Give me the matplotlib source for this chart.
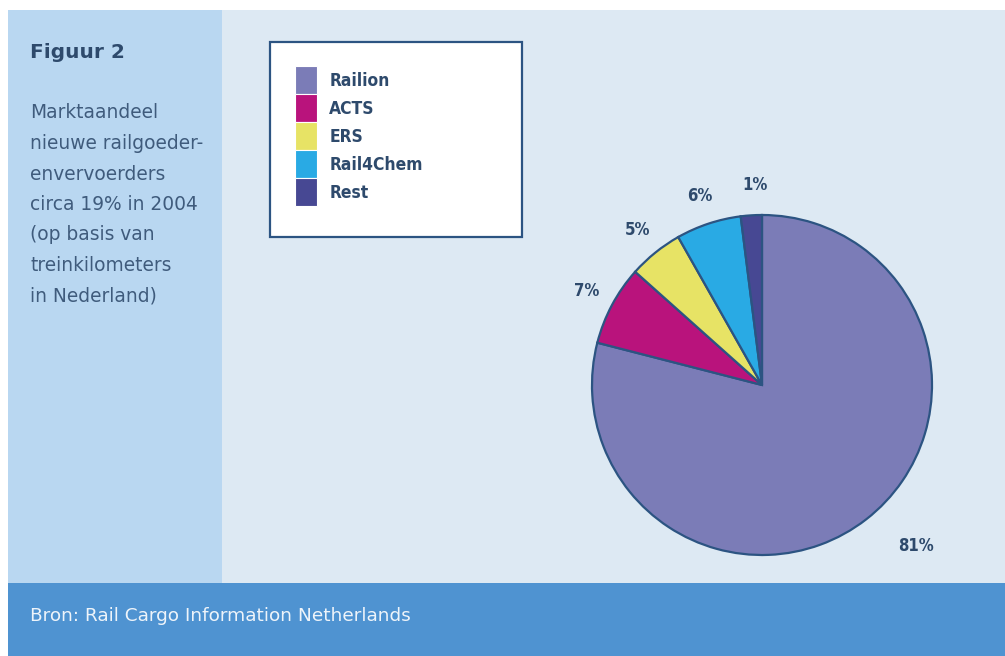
import numpy as np
import matplotlib
matplotlib.use("Agg")
import matplotlib.pyplot as plt
from matplotlib.patches import Rectangle, Patch

# data read off the picture (slice sizes measured from the wedge angles,
# printed labels as they appear on the chart)
categories = ["Railion", "ACTS", "ERS", "Rail4Chem", "Rest"]
shares = [79.0, 7.6, 5.2, 6.2, 2.0]
share_labels = ["81%", "7%", "5%", "6%", "1%"]
colors = ["#7b7cb7", "#b9137c", "#e7e365", "#29aae4", "#474893"]

title = "Figuur 2"
subtitle_lines = ["Marktaandeel", "nieuwe railgoeder-", "envervoerders",
                  "circa 19% in 2004", "(op basis van", "treinkilometers",
                  "in Nederland)"]
source = "Bron: Rail Cargo Information Netherlands"

W, H = 1005, 656
fig = plt.figure(figsize=(W / 100, H / 100), dpi=100)
fig.patch.set_facecolor("white")


def box(x0, y0, x1, y1):
    # pixel box (top-left origin) -> figure fraction rect
    return (x0 / W, 1 - y1 / H, (x1 - x0) / W, (y1 - y0) / H)


def add_rect(x0, y0, x1, y1, **kw):
    l, b, w, h = box(x0, y0, x1, y1)
    fig.add_artist(Rectangle((l, b), w, h, transform=fig.transFigure, **kw))


# background panels (kept under the pie axes)
add_rect(222, 10, W, 583, facecolor="#dde9f3", edgecolor="none", zorder=-5)
add_rect(8, 10, 222, 583, facecolor="#b9d7f1", edgecolor="none", zorder=-5)
add_rect(8, 583, W, H, facecolor="#4f93d1", edgecolor="none", zorder=-5)

# left panel texts
navy = "#2e4a6c"
fig.text(30 / W, 1 - 52 / H, title, fontsize=14.5, fontweight="bold",
         color=navy, va="center", ha="left")
for i, line in enumerate(subtitle_lines):
    fig.text(30 / W, 1 - (113 + i * 30.5) / H, line, fontsize=13.4,
             color="#3f5b7c", va="center", ha="left")

fig.text(30 / W, 1 - 616 / H, source, fontsize=13.3, color="#eef4fa",
         va="center", ha="left")

narrow = dict(family="DejaVu Sans", stretch="condensed", weight="bold")

# pie
cx, cy, r = 762, 385, 170
ax = fig.add_axes(box(cx - r, cy - r, cx + r, cy + r))
wedges, _ = ax.pie(shares, colors=colors, startangle=90, counterclock=False,
                   radius=1.0,
                   wedgeprops=dict(edgecolor="#2c5482", linewidth=1.6))
ax.set_xlim(-1, 1)
ax.set_ylim(-1, 1)
ax.set_aspect("equal")
ax.axis("off")

label_dist = [1.31, 1.17, 1.17, 1.17, 1.18]
label_shift = [6.0, 0, 0, 0, -1.5]
for w, lab, d, s in zip(wedges, share_labels, label_dist, label_shift):
    ang = np.deg2rad((w.theta1 + w.theta2) / 2 + s)
    ax.text(d * np.cos(ang), d * np.sin(ang), lab, fontsize=12,
            ha="center", va="center", color=navy, **narrow)

# legend frame
add_rect(270, 42, 522, 237, facecolor="white", edgecolor="#2c5482",
         linewidth=1.6)
handles = [Patch(facecolor=c, edgecolor="white", linewidth=0.8)
           for c in colors]
leg = fig.legend(handles, categories, loc="upper left",
                 bbox_to_anchor=(283 / W, 1 - 54 / H), frameon=False,
                 handlelength=1.27, handleheight=2.11, handletextpad=0.69,
                 labelspacing=0.0, borderpad=0.2,
                 prop=dict(size=12.5, **narrow))
for t in leg.get_texts():
    t.set_color(navy)

fig.savefig("out.png", dpi=100)
